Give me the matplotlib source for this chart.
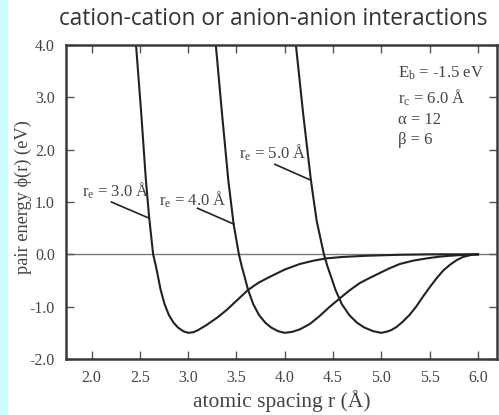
import numpy as np
import matplotlib
matplotlib.use("Agg")
import matplotlib.pyplot as plt
from matplotlib.patches import Rectangle

plt.rcParams['font.family'] = ['Liberation Serif', 'DejaVu Serif']
plt.rcParams['mathtext.default'] = 'regular'

# pair energy curves, phi(r) in eV, for three equilibrium spacings
r_re3 = [2.46, 2.514, 2.562, 2.596, 2.637, 2.665, 2.69, 2.715, 2.755, 2.80,
         2.85, 2.895, 2.95, 3.0, 3.05, 3.10, 3.19, 3.30, 3.40, 3.51, 3.62,
         3.73, 3.845, 4.0, 4.155, 4.30, 4.43, 4.60, 4.845, 5.2, 5.5, 6.0]
phi_re3 = [4.0, 2.69, 1.42, 0.70, 0.0, -0.22, -0.45, -0.68, -0.95, -1.16,
           -1.31, -1.40, -1.47, -1.50, -1.49, -1.45, -1.35, -1.21, -1.06, -0.87, -0.68,
           -0.54, -0.43, -0.29, -0.185, -0.12, -0.077, -0.05, -0.027, -0.008, 0.0, 0.0]

r_re4 = [3.286, 3.35, 3.415, 3.47, 3.525, 3.553, 3.587, 3.62, 3.673, 3.733,
         3.80, 3.86, 3.933, 4.0, 4.08, 4.16, 4.26, 4.36, 4.46, 4.57, 4.67,
         4.775, 4.88, 4.98, 5.08, 5.19, 5.33, 5.47, 5.60, 5.71, 5.85, 6.0]
phi_re4 = [4.0, 2.69, 1.42, 0.58, 0.0, -0.22, -0.45, -0.68, -0.95, -1.16,
           -1.31, -1.40, -1.47, -1.50, -1.48, -1.43, -1.33, -1.18, -1.01, -0.84, -0.69,
           -0.55, -0.45, -0.36, -0.27, -0.185, -0.12, -0.077, -0.045, -0.027, -0.01, 0.0]

r_re5 = [4.115, 4.19, 4.27, 4.33, 4.405, 4.44, 4.483, 4.525, 4.59, 4.667,
         4.75, 4.825, 4.917, 5.0, 5.05, 5.10, 5.155, 5.22, 5.29, 5.36, 5.43,
         5.50, 5.57, 5.64, 5.71, 5.78, 5.845, 5.93, 6.0]
phi_re5 = [4.0, 2.69, 1.42, 0.64, 0.0, -0.22, -0.45, -0.68, -0.95, -1.16,
           -1.31, -1.40, -1.47, -1.50, -1.48, -1.45, -1.39, -1.29, -1.16, -1.0, -0.81,
           -0.63, -0.46, -0.31, -0.20, -0.11, -0.05, -0.01, 0.0]

x_ticks = [2.0, 2.5, 3.0, 3.5, 4.0, 4.5, 5.0, 5.5, 6.0]
y_ticks = [-2.0, -1.0, 0.0, 1.0, 2.0, 3.0, 4.0]

params = ['E$_b$ = -1.5 eV', 'r$_c$ = 6.0 Å', 'α = 12', 'β = 6']

ink = '#222222'
txt = '#444444'

fig = plt.figure(figsize=(4.99, 4.15), dpi=100)
fig.patches.append(Rectangle((0, 0), 8 / 499, 1, transform=fig.transFigure,
                             facecolor='#c8fdff', edgecolor='none'))
ax = fig.add_axes([66 / 499, 1 - 359 / 415, (497.3 - 66) / 499, (359 - 45) / 415])

ax.axhline(0, color='#7a7a7a', lw=1.0, zorder=1)
for rr, pp in [(r_re3, phi_re3), (r_re4, phi_re4), (r_re5, phi_re5)]:
    ax.plot(rr, pp, color=ink, lw=1.5, solid_joinstyle='round', zorder=2)

ax.set_xlim(1.735, 6.2)
ax.set_ylim(-2.0, 4.0)
ax.set_xticks(x_ticks)
ax.set_yticks(y_ticks)
ax.set_xticklabels(['%.1f' % v for v in x_ticks])
ax.set_yticklabels(['%.1f' % v for v in y_ticks])
ax.tick_params(direction='in', length=6, width=1, color='#555555',
               top=True, right=True, labelsize=11.5, labelcolor=txt, pad=8)
for s in ax.spines.values():
    s.set_color('#3a3a3a')
    s.set_linewidth(1.8)

ax.set_xlabel('atomic spacing r (Å)', fontsize=15.5, color=txt, labelpad=3)
ax.set_ylabel('pair energy ϕ(r) (eV)', fontsize=13.2, color=txt)
ax.yaxis.set_label_coords(-0.078, 0.515)

# labels with leader lines onto each curve
ax.text(1.90, 1.10, 'r$_e$ = 3.0 Å', fontsize=12, color=txt, va='baseline', ha='left')
ax.plot([2.205, 2.596], [1.0, 0.69], color=ink, lw=1.2)
ax.text(2.696, 0.93, 'r$_e$ = 4.0 Å', fontsize=12, color=txt, va='baseline', ha='left')
ax.plot([3.097, 3.472], [0.88, 0.578], color=ink, lw=1.2)
ax.text(3.53, 1.83, 'r$_e$ = 5.0 Å', fontsize=12, color=txt, va='baseline', ha='left')
ax.plot([3.897, 4.266], [1.72, 1.42], color=ink, lw=1.2)

for yv, s in zip([3.46, 3.0, 2.56, 2.18], params):
    ax.text(5.169, yv, s, fontsize=12, color=txt, va='center', ha='left')

fig.text(0.548, 0.955, 'cation-cation or anion-anion interactions',
         family='Open Sans', fontsize=16.3, color='#333333', ha='center', va='center')

fig.savefig('out.png', dpi=100)
